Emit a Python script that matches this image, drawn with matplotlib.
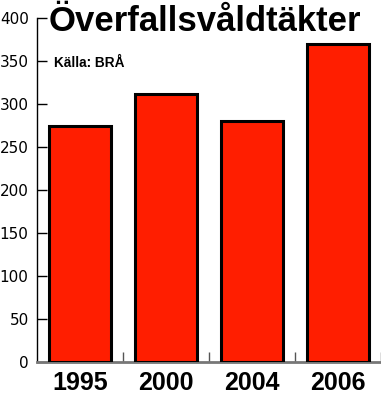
import matplotlib.pyplot as plt

years = ['1995', '2000', '2004', '2006']
values = [275, 312, 280, 370]

fig = plt.figure(figsize=(3.81, 3.95), dpi=100)
ax = fig.add_axes([37 / 381, 33 / 395, 344 / 381, 344 / 395])

ax.bar(range(len(years)), values, width=0.73, color='#ff1e00',
       edgecolor='black', linewidth=2.2, zorder=3)

ax.set_xlim(-0.5, 3.5)
ax.set_ylim(0, 400)
ax.set_yticks(range(0, 401, 50))
ax.tick_params(axis='y', direction='in', length=7, width=1, labelsize=11, pad=6)

# category labels centred under bars, ticks at category boundaries
ax.set_xticks([0.5, 1.5, 2.5, 3.5])
ax.set_xticklabels([])
ax.tick_params(axis='x', direction='in', length=7, width=1, color='#555555')
for i, y in enumerate(years):
    ax.text(i, -10, y, ha='center', va='top', fontsize=18, fontweight='bold',
            family='Liberation Sans')

for s in ['top', 'right']:
    ax.spines[s].set_visible(False)
ax.spines['left'].set_linewidth(1)
ax.spines['bottom'].set_color('#777777')
ax.spines['bottom'].set_linewidth(2)

fig.text(205 / 381, 1 - 31 / 395, 'Överfallsvåldtäkter', ha='center',
         va='baseline', fontsize=25, fontweight='bold', family='Liberation Sans')
ax.text(0.05, 0.87, 'Källa: BRÅ', transform=ax.transAxes, ha='left',
        va='center', fontsize=9.8, fontweight='bold', family='Liberation Sans')

fig.savefig('out.png', dpi=100)
